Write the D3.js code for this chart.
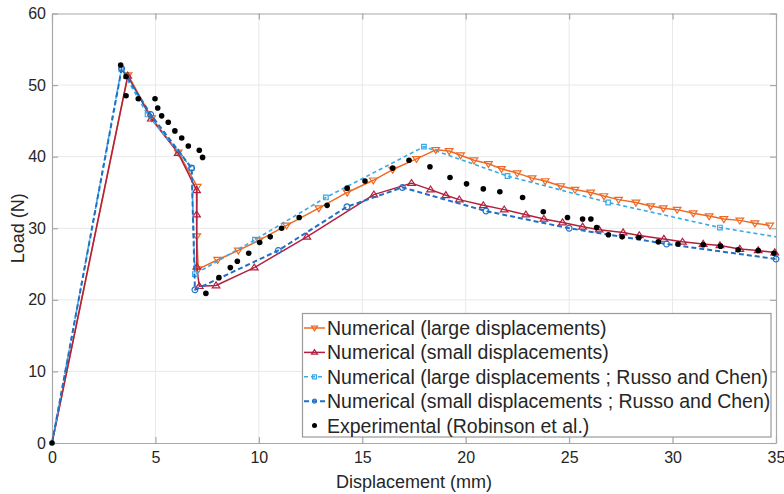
<!DOCTYPE html>
<html>
<head>
<meta charset="utf-8">
<script src="https://cdn.jsdelivr.net/npm/d3@7/dist/d3.min.js"></script>
<style>
  html, body { margin: 0; padding: 0; background: #fff; }
  svg { display: block; font-family: "Liberation Sans", Arial, Helvetica, sans-serif; }
</style>
</head>
<body>
<svg id="chart" width="784" height="494"></svg>
<script>
// Load–displacement curves: numerical models and experiment (values in mm, N)
const xTicks = [0, 5, 10, 15, 20, 25, 30, 35];
const yTicks = [0, 10, 20, 30, 40, 50, 60];

const numLarge = [
  [0, 0], [3.68, 51.4], [4.82, 45.4], [6.1, 40.6], [7.02, 35.8], [7.0, 28.9], [7.07, 24.3],
  [8.01, 25.6], [9.01, 26.9], [10.0, 28.3], [11.34, 30.4], [12.9, 32.8], [14.27, 35.0],
  [15.53, 36.7], [16.47, 38.2], [17.62, 39.7], [18.55, 40.95], [19.2, 40.8], [19.75, 40.2],
  [20.4, 39.5], [21.1, 39.0], [21.73, 38.3], [22.49, 37.7], [23.21, 37.0], [23.84, 36.6],
  [24.59, 35.9], [25.28, 35.4], [26.04, 35.0], [26.68, 34.5], [27.39, 34.0], [28.23, 33.6],
  [28.94, 33.1], [29.55, 32.8], [30.22, 32.6], [31.0, 32.1], [31.77, 31.7], [32.48, 31.3],
  [33.25, 31.1], [33.98, 30.7], [34.7, 30.4]
];

const numSmall = [
  [0, 0], [3.66, 51.3], [4.8, 45.3], [6.1, 40.5], [6.99, 35.3], [6.99, 31.9], [7.0, 24.6],
  [7.12, 21.9], [7.93, 22.0], [9.78, 24.5], [12.32, 28.8], [15.56, 34.7], [17.38, 36.3],
  [18.3, 35.4], [19.04, 34.6], [19.69, 34.0], [20.85, 33.2], [21.86, 32.6], [22.91, 31.9],
  [23.78, 31.3], [24.68, 30.8], [25.65, 30.2], [26.45, 29.8], [27.61, 29.4], [28.39, 29.0],
  [29.58, 28.5], [30.48, 28.1], [31.48, 27.8], [32.29, 27.6], [33.25, 27.1], [34.14, 26.9],
  [34.94, 26.6]
];

const russoLarge = [
  [0, 0], [3.35, 52.2], [4.62, 45.9], [6.75, 38.4], [6.91, 23.6], [9.81, 28.4], [13.24, 34.3],
  [17.98, 41.4], [22.02, 37.3], [26.89, 33.6], [32.29, 30.1], [35.0, 28.8]
];

const russoSmall = [
  [0, 0], [3.37, 52.3], [4.77, 45.9], [6.75, 38.4], [6.91, 21.4], [10.94, 26.9], [14.26, 33.0],
  [16.94, 35.7], [20.98, 32.4], [25.0, 30.0], [29.71, 27.8], [35.0, 25.7]
];

const experimental = [
  [0, 0], [3.32, 52.8], [3.58, 51.2], [3.58, 48.5], [4.17, 48.1], [4.98, 48.1], [5.11, 46.8],
  [5.30, 45.7], [5.62, 44.8], [5.94, 43.6], [6.27, 42.6], [6.59, 41.5], [7.12, 40.9],
  [7.28, 39.9], [7.44, 20.9], [8.07, 23.1], [8.62, 24.5], [8.96, 25.4], [9.51, 26.5],
  [10.04, 28.0], [10.55, 28.8], [11.1, 30.0], [11.95, 31.5], [13.3, 33.2], [14.27, 35.6],
  [15.13, 36.6], [16.47, 38.4], [17.26, 39.5], [18.27, 38.6], [19.24, 37.1], [20.04, 36.2],
  [20.85, 35.5], [21.65, 35.1], [22.75, 34.3], [23.75, 32.3], [24.92, 31.5], [25.65, 31.3],
  [26.05, 31.3], [26.33, 30.1], [26.9, 29.1], [27.56, 28.8], [28.37, 28.7], [29.31, 28.1],
  [30.26, 27.8], [31.48, 27.7], [32.32, 27.5], [33.17, 27.0], [34.14, 26.9], [34.9, 26.5]
];

const legendLabels = [
  "Numerical (large displacements)",
  "Numerical (small displacements)",
  "Numerical (large displacements ; Russo and Chen)",
  "Numerical (small displacements ; Russo and Chen)",
  "Experimental (Robinson et al.)"
];

// ---- layout ----
const svg = d3.select("#chart");
const L = 52, R = 776, T = 13.5, B = 443;
const x = d3.scaleLinear().domain([0, 35]).range([L, R]);
const y = d3.scaleLinear().domain([0, 60]).range([B, T]);

const axisColor = "#a8a8a8";
const gridColor = "#e8e8e8";
const textColor = "#262626";

// grid
const grid = svg.append("g");
grid.selectAll("line.vx").data(xTicks.slice(1, -1)).join("line")
  .attr("x1", d => x(d)).attr("x2", d => x(d)).attr("y1", T).attr("y2", B)
  .attr("stroke", gridColor).attr("stroke-width", 1);
grid.selectAll("line.hy").data(yTicks.slice(1, -1)).join("line")
  .attr("x1", L).attr("x2", R).attr("y1", d => y(d)).attr("y2", d => y(d))
  .attr("stroke", gridColor).attr("stroke-width", 1);

// axes (inward ticks, full box)
function styleAxis(g, showLabels) {
  g.selectAll(".domain").attr("stroke", axisColor).attr("stroke-width", 1.2);
  g.selectAll(".tick line").attr("stroke", axisColor).attr("stroke-width", 1.2);
  g.selectAll(".tick text").attr("fill", textColor).style("font-size", "16px")
    .style("display", showLabels ? null : "none");
  g.attr("font-family", null);
}
svg.append("g").attr("transform", `translate(0,${B})`)
  .call(d3.axisBottom(x).tickValues(xTicks).tickSize(-6).tickPadding(9).tickSizeOuter(0))
  .call(g => styleAxis(g, true));
svg.append("g").attr("transform", `translate(0,${T})`)
  .call(d3.axisTop(x).tickValues(xTicks).tickSize(-6).tickSizeOuter(0))
  .call(g => styleAxis(g, false));
svg.append("g").attr("transform", `translate(${L},0)`)
  .call(d3.axisLeft(y).tickValues(yTicks).tickSize(-6).tickPadding(6).tickSizeOuter(0))
  .call(g => styleAxis(g, true));
svg.append("g").attr("transform", `translate(${R},0)`)
  .call(d3.axisRight(y).tickValues(yTicks).tickSize(-6).tickSizeOuter(0))
  .call(g => styleAxis(g, false));

// axis titles
svg.append("text").attr("x", (L + R) / 2).attr("y", 488)
  .attr("text-anchor", "middle").attr("fill", textColor).style("font-size", "18px")
  .text("Displacement (mm)");
svg.append("text").attr("transform", `translate(24,${(T + B) / 2}) rotate(-90)`)
  .attr("text-anchor", "middle").attr("fill", textColor).style("font-size", "18px")
  .text("Load (N)");

// ---- series ----
const markerPaths = {
  down: s => `M${-s},${-s * 0.6}L${s},${-s * 0.6}L0,${s * 0.95}Z`,
  up: s => `M${-s},${s * 0.6}L${s},${s * 0.6}L0,${-s * 0.95}Z`,
  square: s => `M${-s},${-s}H${s}V${s}H${-s}Z`,
  circle: s => `M${-s},0A${s},${s} 0 1,0 ${s},0A${s},${s} 0 1,0 ${-s},0Z`
};

const series = [
  { data: numLarge, color: "#EE6A24", width: 1.5, dash: null, marker: "down", size: 3.8, skipLast: false },
  { data: numSmall, color: "#B2203F", width: 1.5, dash: null, marker: "up", size: 3.8, skipLast: false },
  { data: russoLarge, color: "#38AAE8", width: 1.6, dash: "4,3", marker: "square", size: 2.3, skipLast: true },
  { data: russoSmall, color: "#1F6FC5", width: 2, dash: "5,3", marker: "circle", size: 2.9, skipLast: false }
];

const line = d3.line().x(d => x(d[0])).y(d => y(d[1]));

series.forEach(s => {
  svg.append("path").datum(s.data)
    .attr("d", line).attr("fill", "none")
    .attr("stroke", s.color).attr("stroke-width", s.width)
    .attr("stroke-dasharray", s.dash).attr("stroke-linejoin", "round");
  const pts = s.data.slice(1, s.skipLast ? -1 : undefined);
  svg.append("g").selectAll("path").data(pts).join("path")
    .attr("transform", d => `translate(${x(d[0])},${y(d[1])})`)
    .attr("d", markerPaths[s.marker](s.size))
    .attr("fill", "none").attr("stroke", s.color).attr("stroke-width", 1.2);
});

svg.append("g").selectAll("circle").data(experimental).join("circle")
  .attr("cx", d => x(d[0])).attr("cy", d => y(d[1])).attr("r", 2.8)
  .attr("fill", "#000");

// ---- legend ----
const lg = svg.append("g");
lg.append("rect").attr("x", 302.5).attr("y", 313.5).attr("width", 468.5).attr("height", 123.5)
  .attr("fill", "#fff").attr("stroke", "#9a9a9a").attr("stroke-width", 1.2);
const rowY = i => 328 + i * 24.4;
legendLabels.forEach((label, i) => {
  const cy = rowY(i);
  if (i < series.length) {
    const s = series[i];
    lg.append("line").attr("x1", 304).attr("x2", 325).attr("y1", cy).attr("y2", cy)
      .attr("stroke", s.color).attr("stroke-width", s.width).attr("stroke-dasharray", s.dash);
    lg.append("path").attr("transform", `translate(314.5,${cy})`)
      .attr("d", markerPaths[s.marker](s.marker === "square" || s.marker === "circle" ? 2 : 3))
      .attr("fill", "none").attr("stroke", s.color).attr("stroke-width", 1.2);
  } else {
    lg.append("circle").attr("cx", 314.5).attr("cy", cy).attr("r", 2.5).attr("fill", "#000");
  }
  lg.append("text").attr("x", 327).attr("y", cy + 7).attr("fill", textColor)
    .style("font-size", "19.5px").text(label);
});
</script>
</body>
</html>
